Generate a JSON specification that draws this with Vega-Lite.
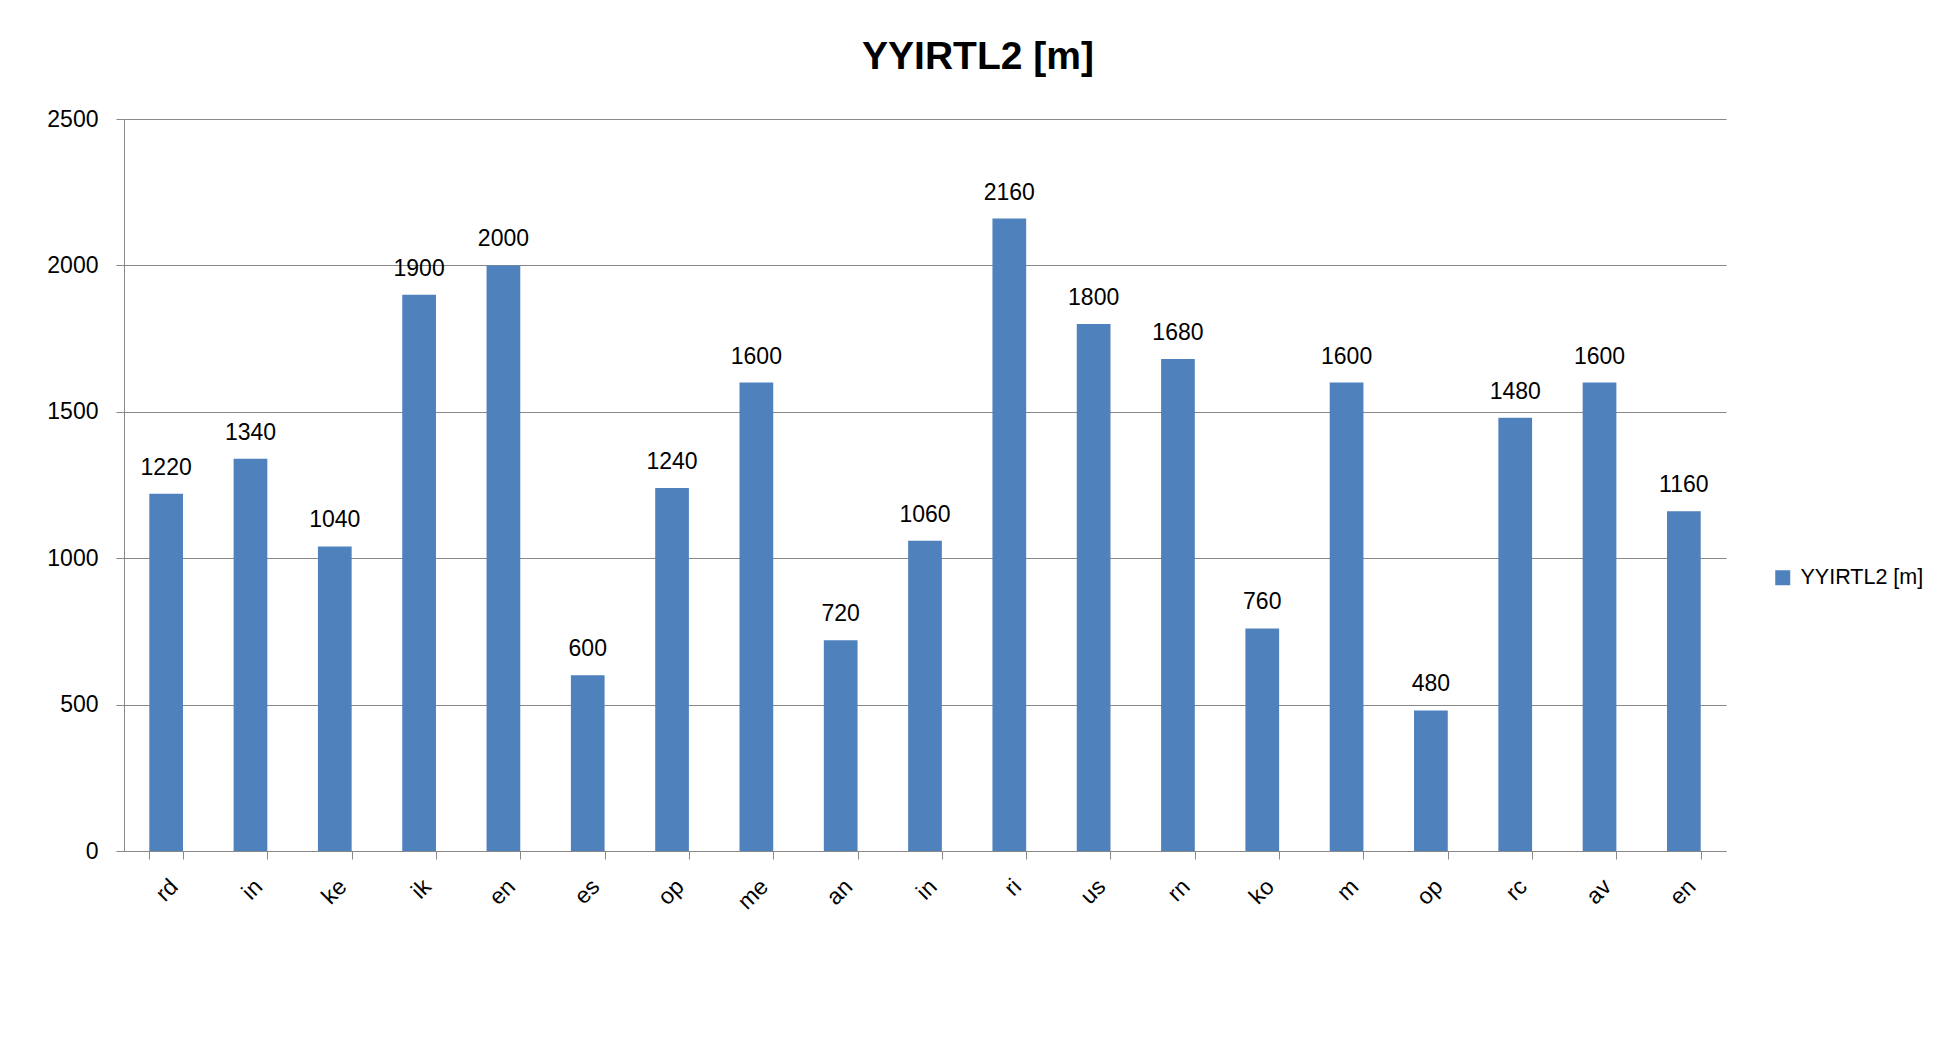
{
  "$schema": "https://vega.github.io/schema/vega-lite/v6.json",
  "width": 1602,
  "height": 732,
  "autosize": {"type": "none"},
  "padding": {"left": 124, "top": 119, "right": 207, "bottom": 209},
  "background": "white",
  "config": {"view": {"stroke": null}, "font": "Liberation Sans"},
  "title": {
    "text": "YYIRTL2 [m]",
    "fontSize": 39,
    "fontWeight": "bold",
    "font": "Liberation Sans",
    "color": "#000000",
    "anchor": "middle",
    "dx": 53,
    "baseline": "alphabetic",
    "offset": 0
  },
  "data": {
    "values": [
      {"name": "rd", "value": 1220},
      {"name": "in", "value": 1340},
      {"name": "ke", "value": 1040},
      {"name": "ik", "value": 1900},
      {"name": "en", "value": 2000},
      {"name": "es", "value": 600},
      {"name": "op", "value": 1240},
      {"name": "me", "value": 1600},
      {"name": "an", "value": 720},
      {"name": "in\u200b", "value": 1060},
      {"name": "ri", "value": 2160},
      {"name": "us", "value": 1800},
      {"name": "rn", "value": 1680},
      {"name": "ko", "value": 760},
      {"name": "m", "value": 1600},
      {"name": "op\u200b", "value": 480},
      {"name": "rc", "value": 1480},
      {"name": "av", "value": 1600},
      {"name": "en\u200b", "value": 1160}
    ]
  },
  "encoding": {
    "x": {
      "field": "name",
      "type": "nominal",
      "sort": null,
      "scale": {"paddingInner": 0.6, "paddingOuter": 0.3},
      "axis": {
        "title": null,
        "tickBand": "extent",
        "tickSize": 8,
        "tickColor": "#888888",
        "domainColor": "#888888",
        "labelAngle": -45,
        "labelFontSize": 23,
        "labelPadding": 16,
        "labelColor": "#000000",
        "grid": false
      }
    },
    "y": {
      "field": "value",
      "type": "quantitative",
      "scale": {"domain": [0, 2500], "nice": false},
      "axis": {
        "title": null,
        "values": [0, 500, 1000, 1500, 2000, 2500],
        "format": "d",
        "grid": true,
        "gridColor": "#888888",
        "domainColor": "#888888",
        "tickColor": "#888888",
        "tickSize": 8,
        "labelFontSize": 23,
        "labelPadding": 18,
        "labelColor": "#000000"
      }
    }
  },
  "layer": [
    {
      "mark": {"type": "bar"},
      "encoding": {
        "color": {
          "datum": "YYIRTL2 [m]",
          "type": "nominal",
          "scale": {"range": ["#4F81BD"]},
          "legend": {
            "orient": "none",
            "legendX": 1648,
            "legendY": 448,
            "title": null,
            "symbolType": "square",
            "symbolSize": 225,
            "symbolStrokeWidth": 0,
            "labelFontSize": 21.5,
            "labelOffset": 7,
            "labelColor": "#000000",
            "padding": 0
          }
        }
      }
    },
    {
      "mark": {"type": "text", "dy": -19, "baseline": "alphabetic", "fontSize": 23, "color": "#000000"},
      "encoding": {"text": {"field": "value", "type": "quantitative"}}
    }
  ]
}
